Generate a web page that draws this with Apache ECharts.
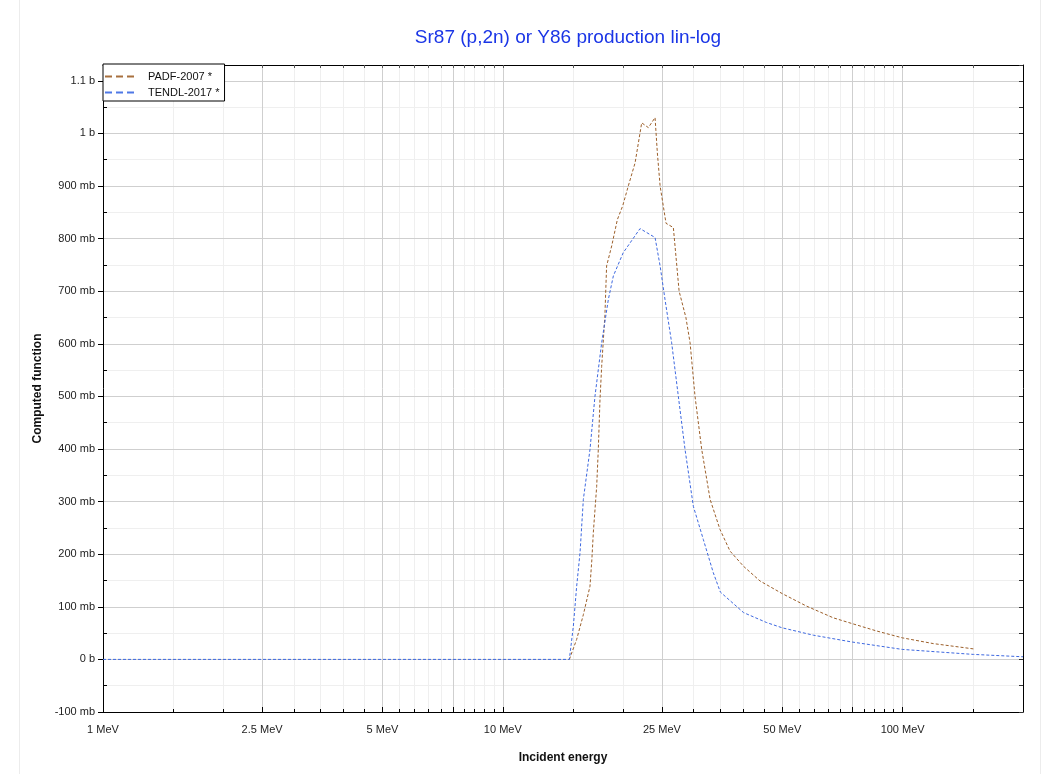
<!DOCTYPE html>
<html>
<head>
<meta charset="utf-8">
<script src="https://cdn.jsdelivr.net/npm/echarts@6/dist/echarts.min.js"></script>
<style>
html,body{margin:0;padding:0;background:#fff;}
#chart{width:1049px;height:774px;}
</style>
</head>
<body>
<div id="chart"></div>
<script>
// ---- data (energy in MeV, cross-section in mb) ----
const padfE = [14.67, 15.3, 15.9, 16.52, 16.7, 16.84, 17.17, 17.33, 17.5, 17.67, 18.0, 18.18, 18.72, 19.34, 19.94, 20.6, 21.42, 22.25, 23.12, 24.03, 24.35, 24.74, 25.6, 26.7, 27.6, 28.7, 29.4, 30.25, 31.44, 33.0, 34.93, 37.0, 40.0, 44.0, 50.0, 57.6, 67.1, 74.8, 86.1, 99.8, 119.4, 150.3];
const padfV = [0, 38, 85, 139, 190, 241, 329, 399, 494, 557, 653, 748, 786, 836, 862, 900, 944, 1020, 1011, 1030, 963, 900, 829, 821, 700, 650, 602, 500, 399, 304, 247, 206, 177, 149, 125, 101, 79, 68, 54, 41, 30, 20];

const tendlE = [1, 14.67, 15.01, 15.3, 15.6, 15.9, 16.52, 17.0, 17.67, 18.36, 18.9, 20.0, 22.04, 24.03, 24.74, 25.45, 26.44, 27.48, 28.56, 29.96, 31.73, 33.6, 35.0, 40.0, 45.7, 50.0, 59.8, 74.8, 99.8, 150.3, 200];
const tendlV = [0, 0, 63, 139, 203, 304, 399, 500, 602, 684, 729, 773, 819, 802, 748, 684, 602, 500, 399, 291, 228, 165, 128, 89, 70, 60, 46, 33, 19, 9.5, 5];

const seriesNames = ['PADF-2007 *', 'TENDL-2017 *'];
const xLabelValues = [1, 2.5, 5, 10, 25, 50, 100];
const xMajorValues = [1, 2.5, 5, 7.5, 10, 25, 50, 75, 100];
const xMinorValues = [1.5, 2, 3, 3.5, 4, 4.5, 5.5, 6, 6.5, 7, 8, 8.5, 9, 9.5, 15, 20, 30, 35, 40, 45, 55, 60, 65, 70, 80, 85, 90, 95, 150];
const xMin = 1, xMax = 200;
const yMin = -100, yMax = 1130;

const FONT = "'Liberation Sans', Arial, sans-serif";
const toPairs = (xs, ys) => xs.map((x, i) => [x, ys[i]]);
const fmtY = v => {
  if (v === 0) return '0 b';
  if (Math.abs(v) >= 1000) return (v / 1000) + ' b';
  return v + ' mb';
};
const dashIcon = 'path://M0,0h7v2h-7z M11,0h7v2h-7z M22,0h7v2h-7z';

const chart = echarts.init(document.getElementById('chart'), null, {renderer: 'canvas'});
const option = {
  backgroundColor: '#ffffff',
  animation: false,
  textStyle: {fontFamily: FONT},
  graphic: [{
    type: 'rect', z: -10, silent: true,
    shape: {x: 19.5, y: -2, width: 1021, height: 778},
    style: {fill: 'none', stroke: '#ececec', lineWidth: 1}
  }],
  title: {
    text: 'Sr87 (p,2n) or Y86 production lin-log',
    left: 563, top: 23, textAlign: 'center',
    textStyle: {fontFamily: FONT, fontSize: 19, fontWeight: 'normal', color: '#1a35e6'}
  },
  legend: {
    orient: 'vertical', left: 103, top: 64, z: 10,
    backgroundColor: '#ffffff', borderColor: '#000', borderWidth: 1, borderRadius: 0,
    padding: [7, 5, 3, 2], itemGap: 5, itemWidth: 29, itemHeight: 2,
    icon: dashIcon,
    textStyle: {fontFamily: FONT, fontSize: 11, color: '#111', padding: [0, 0, 0, 9]},
    data: seriesNames
  },
  grid: {left: 103, right: 26, top: 65, bottom: 62, containLabel: false},
  xAxis: [{
    type: 'log', logBase: 10, min: xMin, max: xMax, position: 'bottom', z: 2,
    name: 'Incident energy', nameLocation: 'middle', nameGap: 40,
    nameTextStyle: {fontFamily: FONT, fontSize: 12, fontWeight: 'bold', color: '#111'},
    axisLine: {show: true, onZero: false, lineStyle: {color: '#000', width: 1}},
    axisTick: {show: true, inside: true, length: 5, customValues: xMajorValues, lineStyle: {color: '#000'}},
    axisLabel: {show: true, customValues: xLabelValues, formatter: v => v + ' MeV', fontFamily: FONT, fontSize: 11, color: '#222', margin: 12},
    splitLine: {show: true, lineStyle: {color: '#cfcfcf', width: 1}},
    minorTick: {show: false}, minorSplitLine: {show: false}
  }, {
    type: 'log', logBase: 10, min: xMin, max: xMax, position: 'bottom', z: 1,
    axisLine: {show: false, onZero: false},
    axisTick: {show: true, inside: true, length: 3, customValues: xMinorValues, lineStyle: {color: '#000'}},
    axisLabel: {show: false},
    splitLine: {show: true, lineStyle: {color: '#efefef', width: 1}}
  }, {
    type: 'log', logBase: 10, min: xMin, max: xMax, position: 'top', z: 2,
    axisLine: {show: true, onZero: false, lineStyle: {color: '#000', width: 1}},
    axisTick: {show: true, inside: true, length: 3, customValues: xMajorValues.concat(xMinorValues), lineStyle: {color: '#555'}},
    axisLabel: {show: false},
    splitLine: {show: false}
  }],
  yAxis: [{
    type: 'value', min: yMin, max: yMax, interval: 100, position: 'left', z: 2,
    name: 'Computed function', nameLocation: 'middle', nameGap: 58, nameRotate: 90,
    nameTextStyle: {fontFamily: FONT, fontSize: 12, fontWeight: 'bold', color: '#111'},
    axisLine: {show: true, onZero: false, lineStyle: {color: '#000', width: 1}},
    axisTick: {show: true, inside: false, length: 5, lineStyle: {color: '#000'}},
    axisLabel: {show: true, formatter: fmtY, fontFamily: FONT, fontSize: 11, color: '#222', margin: 8, showMaxLabel: false},
    splitLine: {show: true, lineStyle: {color: '#cfcfcf', width: 1}}
  }, {
    type: 'value', min: yMin, max: yMax, interval: 50, position: 'left', z: 1,
    axisLine: {show: false, onZero: false},
    axisTick: {show: true, inside: true, length: 4, lineStyle: {color: '#000'}},
    axisLabel: {show: false},
    splitLine: {show: true, lineStyle: {color: '#efefef', width: 1}}
  }, {
    type: 'value', min: yMin, max: yMax, interval: 50, position: 'right', z: 2,
    axisLine: {show: true, onZero: false, lineStyle: {color: '#000', width: 1}},
    axisTick: {show: true, inside: true, length: 4, lineStyle: {color: '#333'}},
    axisLabel: {show: false},
    splitLine: {show: false}
  }],
  series: [{
    name: seriesNames[0], type: 'line', xAxisIndex: 0, yAxisIndex: 0, z: 3,
    symbol: 'none', showSymbol: false, smooth: false,
    lineStyle: {color: '#9c5f2a', width: 1, type: [3, 2]},
    itemStyle: {color: '#a8703e'},
    data: toPairs(padfE, padfV)
  }, {
    name: seriesNames[1], type: 'line', xAxisIndex: 0, yAxisIndex: 0, z: 4,
    symbol: 'none', showSymbol: false, smooth: false,
    lineStyle: {color: '#3d68e0', width: 1, type: [3, 2]},
    itemStyle: {color: '#4f78e6'},
    data: toPairs(tendlE, tendlV)
  }]
};
chart.setOption(option);
</script>
</body>
</html>
